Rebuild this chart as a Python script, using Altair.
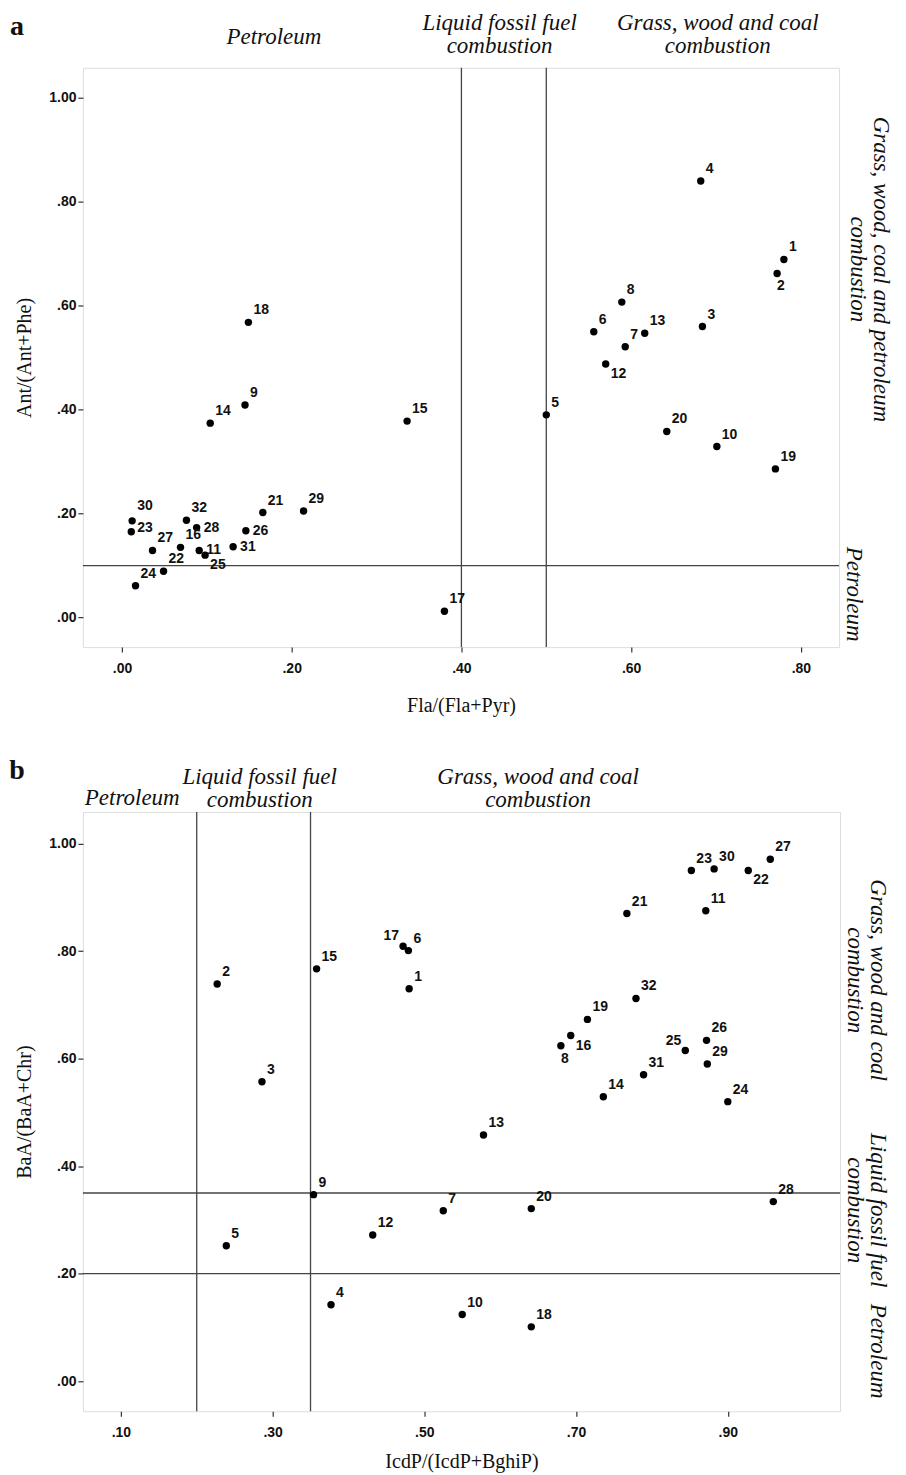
import altair as alt
import pandas as pd

# ---------------- Panel a data ----------------
ids = list(range(1, 33))
fla_pyr = [0.780, 0.772, 0.684, 0.682, 0.500, 0.556, 0.593, 0.589, 0.145, 0.701,
           0.091, 0.570, 0.616, 0.104, 0.336, 0.069, 0.380, 0.149, 0.770, 0.642,
           0.166, 0.049, 0.011, 0.016, 0.098, 0.146, 0.036, 0.088, 0.214, 0.012,
           0.131, 0.076]
ant_phe = [0.689, 0.662, 0.560, 0.840, 0.390, 0.550, 0.521, 0.607, 0.409, 0.329,
           0.129, 0.488, 0.547, 0.374, 0.378, 0.135, 0.012, 0.568, 0.286, 0.358,
           0.202, 0.089, 0.165, 0.061, 0.120, 0.167, 0.129, 0.173, 0.205, 0.186,
           0.136, 0.187]
label_pos_a = {2: "b", 12: "br", 25: "br", 28: "r", 11: "r", 31: "r", 26: "r",
               30: "uh", 23: "rl"}

# ---------------- Panel b data ----------------
icdp = [0.480, 0.227, 0.286, 0.377, 0.239, 0.479, 0.525, 0.680, 0.354, 0.550,
        0.871, 0.432, 0.578, 0.736, 0.358, 0.693, 0.472, 0.641, 0.715, 0.641,
        0.767, 0.927, 0.852, 0.900, 0.844, 0.872, 0.956, 0.960, 0.873, 0.882,
        0.789, 0.779]
baa = [0.730, 0.739, 0.557, 0.142, 0.252, 0.801, 0.317, 0.624, 0.347, 0.124,
       0.875, 0.272, 0.458, 0.529, 0.767, 0.643, 0.809, 0.101, 0.673, 0.321,
       0.870, 0.950, 0.950, 0.520, 0.615, 0.634, 0.971, 0.334, 0.590, 0.953,
       0.570, 0.712]
label_pos_b = {17: "ul", 25: "ul", 16: "br", 8: "b", 22: "br"}

xticks_a = [0.0, 0.2, 0.4, 0.6, 0.8]
yticks = [0.0, 0.2, 0.4, 0.6, 0.8, 1.0]
xticks_b = [0.1, 0.3, 0.5, 0.7, 0.9]

vlines_a = [0.4, 0.5]
hlines_a = [0.1]
vlines_b = [0.2, 0.35]
hlines_b = [0.2, 0.35]

top_a = ["Liquid fossil fuel\ncombustion", "Grass, wood and coal\ncombustion"]
top_a_x = [0.445, 0.702]
top_a_single = ["Petroleum"]
top_a_single_x = [0.179]
right_a = ["Grass, wood, coal and petroleum\ncombustion"]
right_a_y = [0.67]
right_a_single = ["Petroleum"]
right_a_single_y = [0.045]

top_b = ["Liquid fossil fuel\ncombustion", "Grass, wood and coal\ncombustion"]
top_b_x = [0.283, 0.65]
top_b_single = ["Petroleum"]
top_b_single_x = [0.115]
right_b = ["Grass, wood and coal\ncombustion", "Liquid fossil fuel\ncombustion"]
right_b_y = [0.746, 0.318]
right_b_single = ["Petroleum"]
right_b_single_y = [0.056]

SERIF = "Liberation Serif"
SANS = "Liberation Sans"
NARROW = "Liberation Sans Narrow, Liberation Sans"

PLACE = {
    "ur": dict(align="left", baseline="bottom", dx=5, dy=-5),
    "uh": dict(align="left", baseline="bottom", dx=5, dy=-8),
    "rl": dict(align="left", baseline="middle", dx=6, dy=-4),
    "r": dict(align="left", baseline="middle", dx=7, dy=0),
    "br": dict(align="left", baseline="top", dx=5, dy=3),
    "b": dict(align="left", baseline="top", dx=0, dy=6),
    "ul": dict(align="right", baseline="bottom", dx=-4, dy=-3),
}

LABEL_EXPR = "datum.value >= 1 ? format(datum.value, '.2f') : replace(format(datum.value, '.2f'), '0.', '.')"


def panel(xv, yv, pos_map, xdom, ydom, xticks, xtitle, ytitle, w, h, title_pad,
          vlines, hlines, top2, top2x, top1, top1x, top2_y, top1_y,
          right2, right2y, right1, right1y, right2_x, right1_x, letter):
    df = pd.DataFrame({"id": ids, "x": xv, "y": yv,
                       "pos": [pos_map.get(i, "ur") for i in ids]})
    xs = alt.Scale(domain=xdom, nice=False, zero=False)
    ys = alt.Scale(domain=ydom, nice=False, zero=False)
    xax = alt.Axis(values=xticks, labelExpr=LABEL_EXPR, grid=False, domain=False,
                   tickSize=5, tickColor="#333", tickWidth=1.2,
                   labelFont=NARROW, labelFontWeight="bold", labelFontSize=14,
                   labelColor="#111", labelPadding=9,
                   title=xtitle, titleFont=SERIF, titleFontSize=20,
                   titleFontWeight="normal", titleColor="#111", titlePadding=title_pad)
    yax = alt.Axis(values=yticks, labelExpr=LABEL_EXPR, grid=False, domain=False,
                   tickSize=5, tickColor="#333", tickWidth=1.2,
                   labelFont=NARROW, labelFontWeight="bold", labelFontSize=14,
                   labelColor="#111", labelPadding=2,
                   title=ytitle, titleFont=SERIF, titleFontSize=20,
                   titleFontWeight="normal", titleColor="#111", titlePadding=14)

    base = alt.Chart(df)
    pts = base.mark_circle(size=55, color="black", opacity=1).encode(
        x=alt.X("x:Q", scale=xs, axis=xax),
        y=alt.Y("y:Q", scale=ys, axis=yax),
    )
    layers = []
    vdf = pd.DataFrame({"v": vlines})
    hdf = pd.DataFrame({"h": hlines})
    layers.append(alt.Chart(vdf).mark_rule(color="#444", strokeWidth=1.3).encode(
        x=alt.X("v:Q", scale=xs)))
    layers.append(alt.Chart(hdf).mark_rule(color="#444", strokeWidth=1.3).encode(
        y=alt.Y("h:Q", scale=ys)))
    layers.append(pts)
    for key, p in PLACE.items():
        layers.append(base.transform_filter(alt.datum.pos == key).mark_text(
            font=SANS, fontWeight="bold", fontSize=14, color="#111", **p
        ).encode(x=alt.X("x:Q", scale=xs), y=alt.Y("y:Q", scale=ys), text="id:N"))

    ann = dict(font=SERIF, fontStyle="italic", fontSize=23, color="#111",
               lineBreak="\n", lineHeight=23)
    t2 = pd.DataFrame({"t": top2, "x": top2x})
    layers.append(alt.Chart(t2).mark_text(baseline="middle", align="center", **ann).encode(
        x=alt.X("x:Q", scale=xs), y=alt.value(top2_y), text="t:N"))
    t1 = pd.DataFrame({"t": top1, "x": top1x})
    layers.append(alt.Chart(t1).mark_text(baseline="middle", align="center", **ann).encode(
        x=alt.X("x:Q", scale=xs), y=alt.value(top1_y), text="t:N"))
    r2 = pd.DataFrame({"t": right2, "y": right2y})
    layers.append(alt.Chart(r2).mark_text(baseline="middle", align="center", angle=90, **ann).encode(
        y=alt.Y("y:Q", scale=ys), x=alt.value(w + right2_x), text="t:N"))
    r1 = pd.DataFrame({"t": right1, "y": right1y})
    layers.append(alt.Chart(r1).mark_text(baseline="middle", align="center", angle=90, **ann).encode(
        y=alt.Y("y:Q", scale=ys), x=alt.value(w + right1_x), text="t:N"))
    ldf = pd.DataFrame({"t": [letter]})
    layers.append(alt.Chart(ldf).mark_text(font=SERIF, fontWeight="bold", fontSize=28,
                                           color="#111", align="center", baseline="middle").encode(
        x=alt.value(-66), y=alt.value(-41), text="t:N"))
    return alt.layer(*layers).properties(width=w, height=h)


pa = panel(fla_pyr, ant_phe, label_pos_a, [-0.046, 0.845], [-0.057, 1.058], xticks_a,
           "Fla/(Fla+Pyr)", "Ant/(Ant+Phe)", 757, 580, 20,
           vlines_a, hlines_a, top_a, top_a_x, top_a_single, top_a_single_x, -45, -31,
           right_a, right_a_y, right_a_single, right_a_single_y, 42, 15, "a")
pb = panel(icdp, baa, label_pos_b, [0.05, 1.048], [-0.056, 1.059], xticks_b,
           "IcdP/(IcdP+BghiP)", "BaA/(BaA+Chr)", 758, 600, 12,
           vlines_b, hlines_b, top_b, top_b_x, top_b_single, top_b_single_x, -35, -14,
           right_b, right_b_y, right_b_single, right_b_single_y, 38, 38, "b")

chart = alt.vconcat(pa, pb, spacing=40).properties(
    padding={"left": 0, "top": 2, "right": 5, "bottom": 2}
).configure_view(stroke="#555", strokeWidth=1.5).configure(background="white")

chart.save("out.html", embed_options={"renderer": "svg", "actions": False})
